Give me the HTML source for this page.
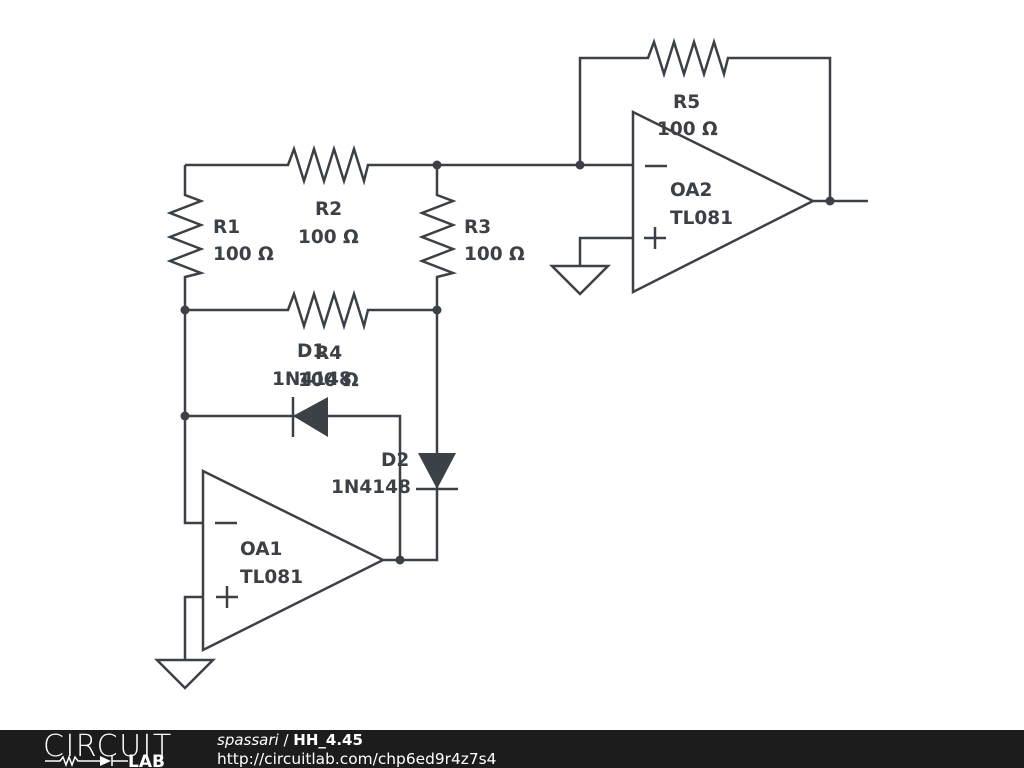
<!DOCTYPE html>
<html><head><style>
body{margin:0;width:1024px;height:768px;background:#fff;overflow:hidden}
svg{display:block}
</style></head><body>
<svg width="1024" height="768" viewBox="0 0 1024 768" xmlns="http://www.w3.org/2000/svg">
<g stroke="#3b4146" stroke-width="2.5" fill="none" stroke-linejoin="miter">
<polyline points="185,165 288,165 294,149 304,181 314,149 324,181 334,149 344,181 354,149 364,181 368,165 633,165"/>
<polyline points="185,165 185,195 201,201 170,213 201,225 170,237 201,249 170,261 201,273 185,277 185,310"/>
<polyline points="437,165 437,195 453,201 422,213 453,225 422,237 453,249 422,261 453,273 437,277 437,310"/>
<polyline points="185,310 288,310 294,294 304,326 314,294 324,326 334,294 344,326 354,294 364,326 368,310 437,310"/>
<polyline points="185,310 185,523 203,523"/>
<polyline points="185,416 400,416 400,560"/>
<line x1="293" y1="397" x2="293" y2="437"/>
<polygon points="203,471 203,650 383,560"/>
<line x1="215" y1="523" x2="237" y2="523"/>
<line x1="216" y1="597" x2="238" y2="597"/>
<line x1="227" y1="586" x2="227" y2="608"/>
<polyline points="203,597 185,597 185,660"/>
<polygon points="157,660 213,660 185,688"/>
<polyline points="383,560 437,560 437,310"/>
<line x1="416" y1="489" x2="458" y2="489"/>
<polygon points="633,112 633,292 813,201"/>
<line x1="645" y1="166" x2="667" y2="166"/>
<line x1="644" y1="238" x2="666" y2="238"/>
<line x1="655" y1="227" x2="655" y2="249"/>
<line x1="813" y1="201" x2="868" y2="201"/>
<polyline points="580,165 580,58 648,58 654,42 664,74 674,42 684,74 694,42 704,74 714,42 724,74 728,58 830,58 830,201"/>
<polyline points="633,238 580,238 580,266"/>
<polygon points="552,266 608,266 580,294"/>
</g>
<g fill="#3b4146">
<polygon points="293,416 328,397 328,437"/>
<polygon points="418,453 456,453 437,489"/>
<circle cx="437" cy="165" r="4.5"/><circle cx="580" cy="165" r="4.5"/>
<circle cx="185" cy="310" r="4.5"/><circle cx="437" cy="310" r="4.5"/>
<circle cx="185" cy="416" r="4.5"/><circle cx="400" cy="560" r="4.5"/>
<circle cx="830" cy="201" r="4.5"/>
</g>
<g fill="#3b4146" font-family="'DejaVu Sans','Liberation Sans',sans-serif" font-weight="bold" font-size="18.5">
<text x="213" y="233">R1</text><text x="213" y="260">100 Ω</text>
<text x="315" y="215">R2</text><text x="298" y="243">100 Ω</text>
<text x="464" y="233">R3</text><text x="464" y="260">100 Ω</text>
<text x="673" y="108">R5</text><text x="657" y="135">100 Ω</text>
<text x="670" y="196">OA2</text><text x="670" y="224">TL081</text>
<text x="240" y="555">OA1</text><text x="240" y="583">TL081</text>
<text x="381" y="466">D2</text><text x="331" y="493">1N4148</text>
<text x="297" y="357">D1</text><text x="272" y="385">1N4148</text>
<text x="315" y="359">R4</text><text x="298" y="386">100 Ω</text>
</g>
<rect x="0" y="730" width="1024" height="38" fill="#1c1c1c"/>
<text x="43" y="756" fill="#fff" font-family="'DejaVu Sans',sans-serif" font-size="30" font-weight="200" letter-spacing="1.5">CIRCUIT</text>
<g stroke="#fff" stroke-width="1.5" fill="none"><polyline points="45,761 60,761 63,757 66,765 69,757 72,765 75,757 78,761 100,761"/><line x1="112" y1="756" x2="112" y2="766"/><line x1="112" y1="761" x2="128" y2="761"/></g>
<polygon points="100,756 100,766 111,761" fill="#fff"/>
<text x="128" y="767" fill="#fff" font-family="'DejaVu Sans',sans-serif" font-size="17" font-weight="bold">LAB</text>
<text x="217" y="745" fill="#fff" font-family="'DejaVu Sans',sans-serif" font-size="15"><tspan font-style="italic">spassari</tspan> / <tspan font-weight="bold">HH_4.45</tspan></text>
<text x="217" y="764" fill="#fff" font-family="'DejaVu Sans',sans-serif" font-size="15.4">http://circuitlab.com/chp6ed9r4z7s4</text>
</svg>
</body></html>
